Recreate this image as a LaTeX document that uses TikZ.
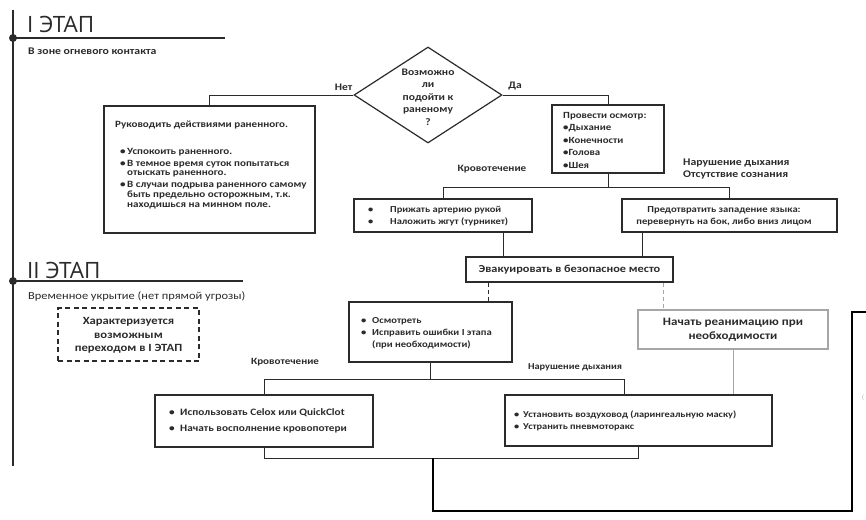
\documentclass[tikz,border=0pt]{standalone}
\usepackage{fontspec}
\setmainfont{Carlito}
\newfontfamily\hdrfont{Open Sans}
\newfontfamily\wf[FakeStretch=1.15]{Carlito}
\usetikzlibrary{shapes.geometric}
\definecolor{ln}{HTML}{2B2B2B}
\definecolor{gr}{HTML}{A6A6A6}
\newcommand{\bu}[1]{\makebox[#1][l]{•}}
\tikzset{
  box/.style={draw=ln, line width=1.2pt, inner sep=0pt},
  gbox/.style={draw=gr, line width=1.2pt, inner sep=0pt},
  conn/.style={draw=ln, line width=0.9pt},
  gconn/.style={draw=gr, line width=0.9pt},
  fat/.style={draw=black, line width=2.6pt, line join=miter},
  hline/.style={draw=ln, line width=1.3pt},
  txt/.style={inner sep=0pt, text=ln},
  bf/.style 2 args={font=\wf\bfseries\fontsize{#1}{#2}\selectfont},
}
\begin{document}
\begin{tikzpicture}[x=1pt,y=-1pt]
\useasboundingbox (0,0) rectangle (866,519);
\fill[white] (0,0) rectangle (866,519);

% stage headers
\coordinate (v1) at (13,10);
\coordinate (v2) at (13,466);
\draw[hline, line width=1.5pt] (v1) -- (v2);
\node[circle, fill=ln, inner sep=0pt, minimum size=8pt] (d1) at (13,38) {};
\node[circle, fill=ln, inner sep=0pt, minimum size=8pt] (d2) at (13,281) {};
\coordinate (h1) at (225,38);
\coordinate (h2) at (243,281);
\draw[hline] (d1.center) -- (h1);
\draw[hline] (d2.center) -- (h2);
\node[txt, anchor=base west, font=\hdrfont\fontsize{22.5}{22.5}\selectfont] (t1) at (27,32.5) {I ЭТАП};
\node[txt, anchor=base west, font=\hdrfont\fontsize{22.5}{22.5}\selectfont] (t2) at (27,278.5) {II ЭТАП};
\node[txt, anchor=base west, bf={10.2}{10}] (s1) at (28,54) {В зоне огневого контакта};
\node[txt, anchor=base west, font=\wf\fontsize{10.8}{11}\selectfont] (s2) at (28,299) {Временное укрытие (нет прямой угрозы)};

% decision
\node[diamond, draw=ln, line width=1.2pt, inner sep=0pt, minimum width=148pt, minimum height=96pt] (q) at (428,95) {};
\node[txt, align=center, bf={10}{12.5}] (qt) at (428,97) {Возможно\\ли\\подойти к\\раненому\\?};
\node[txt, bf={10}{10}] (no) at (343.5,87) {Нет};
\node[txt, bf={10}{10}] (yes) at (515,86) {Да};

% boxes stage I
\node[box, minimum width=211pt, minimum height=127pt] (L1) at (209.5,169.5) {};
\node[txt, anchor=west, align=left, bf={9.6}{9.6}] (L1t) at (115,165) {%
Руководить действиями раненного.\\[16.5pt]
\hspace*{5pt}\bu{7pt}Успокоить раненного.\\[2.5pt]
\hspace*{5pt}\bu{7pt}В темное время суток попытаться\\
\hspace*{12pt}отыскать раненного.\\[2.5pt]
\hspace*{5pt}\bu{7pt}В случаи подрыва раненного самому\\
\hspace*{12pt}быть предельно осторожным, т.к.\\
\hspace*{12pt}находишься на минном поле.};

\node[box, minimum width=112pt, minimum height=68pt] (R1) at (608,139) {};
\node[txt, anchor=west, align=left, bf={9.4}{12.5}] (R1t) at (563,140) {%
Провести осмотр:\\•Дыхание\\•Конечности\\•Голова\\•Шея};

\node[txt, bf={9.7}{10}] (lab1) at (492,169) {Кровотечение};
\node[txt, anchor=west, align=left, bf={10.2}{12}] (lab2) at (683,169) {Нарушение дыхания\\Отсутствие сознания};

\node[box, minimum width=178pt, minimum height=33pt] (B1) at (443,215.5) {};
\node[txt, anchor=west, align=left, bf={9.1}{12}] (B1t) at (368,216) {%
\bu{22pt}Прижать артерию рукой\\\bu{22pt}Наложить жгут (турникет)};
\node[box, minimum width=215pt, minimum height=33pt] (B2) at (729.5,215.5) {};
\node[txt, align=center, bf={9.2}{12}] (B2t) at (724,216) {%
Предотвратить западение языка:\\перевернуть на бок, либо вниз лицом};

% stage II
\node[box, minimum width=207pt, minimum height=25pt] (E) at (569.5,269.5) {};
\node[txt, bf={10.7}{11}] (Et) at (569.5,270) {Эвакуировать в безопасное место};

\node[box, minimum width=163pt, minimum height=60pt] (O) at (430.5,332) {};
\node[txt, anchor=west, align=left, bf={9.2}{12}] (Ot) at (361,333) {%
\bu{11pt}Осмотреть\\\bu{11pt}Исправить ошибки I этапа\\\hspace*{11pt}(при необходимости)};

\node[gbox, minimum width=190pt, minimum height=39pt] (G) at (733,329.5) {};
\node[txt, align=center, bf={11.3}{14}] (Gt) at (733,330) {Начать реанимацию при\\необходимости};

\node[draw=ln, line width=1.2pt, dash pattern=on 5pt off 3.5pt, inner sep=0pt, minimum width=141pt, minimum height=53pt] (D) at (128.5,334.5) {};
\node[txt, align=center, bf={11}{13.5}] (Dt) at (128.5,335.5) {Характеризуется\\возможным\\переходом в I ЭТАП};

\node[txt, bf={9.6}{10}] (lab3) at (285,362) {Кровотечение};
\node[txt, bf={9}{10}] (lab4) at (575,367) {Нарушение дыхания};

\node[box, minimum width=218pt, minimum height=52pt] (BL) at (264,421) {};
\node[txt, anchor=west, align=left, bf={9.8}{16}] (BLt) at (169,421) {%
\bu{11pt}Использовать Celox или QuickClot\\\bu{11pt}Начать восполнение кровопотери};
\node[box, minimum width=267pt, minimum height=51pt] (BR) at (638.5,420.5) {};
\node[txt, anchor=west, align=left, bf={9}{12}] (BRt) at (514,421) {%
\bu{9pt}Установить воздуховод (ларингеальную маску)\\\bu{9pt}Устранить пневмоторакс};

\node[txt, text=gr, font=\fontsize{6}{6}\selectfont] (frag) at (863,398) {(};

% connectors
\draw[conn] (q.west) -| (L1.north);
\draw[conn] (q.east) -| (R1.north);
\draw[conn] (R1.south) -- ++(0,14) coordinate (j1);
\draw[conn] (B1.north) |- (j1) -| (B2.north);
\draw[conn] ([xshift=60pt]B1.south) -- ([xshift=60pt]B1.south |- E.north);
\draw[conn] ([xshift=-87.5pt]B2.south) -- ([xshift=-87.5pt]B2.south |- E.north);
\draw[conn, dash pattern=on 4pt off 3pt] ([xshift=-81.5pt]E.south) -- ([xshift=-81.5pt]E.south |- O.north);
\draw[gconn, dash pattern=on 4pt off 3pt] ([xshift=93.5pt]E.south) -- ([xshift=93.5pt]E.south |- G.north);
\draw[conn] (O.south) -- ++(0,17) coordinate (j2);
\draw[conn] (BL.north) |- (j2) -| ([xshift=-14.5pt]BR.north);
\draw[gconn] (G.south) -- (G.south |- BR.north);
\draw[conn] (BL.south) -- ++(0,11) coordinate (j3) -| (BR.south);
\coordinate (k1) at (433,458);
\coordinate (k3) at (852,511);
\coordinate (k5) at (866,312);
\draw[fat] (k1) |- (k3) |- (k5);
\end{tikzpicture}
\end{document}
